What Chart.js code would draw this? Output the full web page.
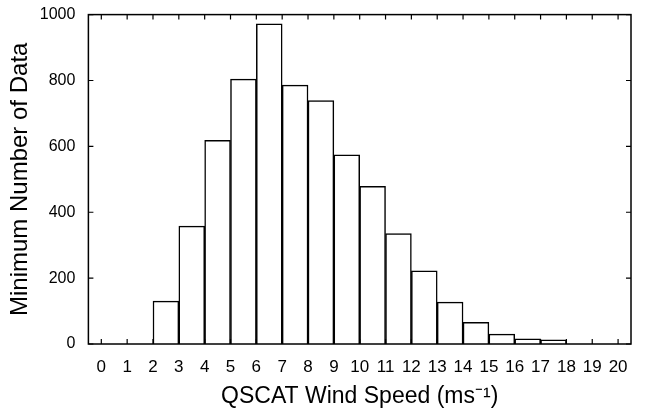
<!DOCTYPE html>
<html>
<head>
<meta charset="utf-8">
<script src="https://cdn.jsdelivr.net/npm/chart.js@4/dist/chart.umd.min.js"></script>
<style>
  html, body { margin: 0; padding: 0; background: #fff; }
  #wrap { width: 653px; height: 410px; }
</style>
</head>
<body>
<div id="wrap"><canvas id="hist"></canvas></div>
<script>
// bin left edges (ms^-1), 1 ms^-1 wide
const binStart = [0, 1, 2, 3, 4, 5, 6, 7, 8, 9, 10, 11, 12, 13, 14, 15, 16, 17, 18, 19]
// minimum number of data in each bin
const counts = [0, 0, 130, 358, 618, 804, 972, 786, 739, 574, 479, 335, 222, 127, 66, 30, 16, 13, 0, 0]
const xTicks = [0, 1, 2, 3, 4, 5, 6, 7, 8, 9, 10, 11, 12, 13, 14, 15, 16, 17, 18, 19, 20]
const yTicks = [0, 200, 400, 600, 800, 1000]

const font = 'Liberation Sans, Arial, Helvetica, sans-serif'

// box round the plot + inward ticks on all four sides, like the matlab style
const boxTicks = {
  id: 'boxTicks',
  afterDraw(chart) {
    const { ctx, chartArea: a, scales } = chart
    const len = 5
    ctx.save()
    ctx.strokeStyle = '#000'
    ctx.lineWidth = 1.5
    ctx.strokeRect(a.left, a.top, a.right - a.left, a.bottom - a.top)
    ctx.lineWidth = 1.2
    ctx.beginPath()
    xTicks.forEach(t => {
      const px = scales.x.getPixelForValue(t)
      ctx.moveTo(px, a.bottom); ctx.lineTo(px, a.bottom - len)
      ctx.moveTo(px, a.top); ctx.lineTo(px, a.top + len)
    })
    yTicks.forEach(t => {
      const py = scales.y.getPixelForValue(t)
      ctx.moveTo(a.left, py); ctx.lineTo(a.left + len, py)
      ctx.moveTo(a.right, py); ctx.lineTo(a.right - len, py)
    })
    ctx.stroke()
    ctx.restore()
  }
}

new Chart(document.getElementById('hist'), {
  type: 'bar',
  data: {
    datasets: [{
      data: binStart.map((b, i) => ({ x: b + 0.5, y: counts[i] })),
      backgroundColor: '#fff',
      borderColor: '#000',
      borderWidth: 1.5,
      barPercentage: 1,
      categoryPercentage: 1
    }]
  },
  options: {
    responsive: true,
    maintainAspectRatio: false,
    animation: false,
    layout: { padding: { left: 6, right: 22, top: 4, bottom: 0 } },
    plugins: { legend: { display: false }, tooltip: { enabled: false } },
    scales: {
      x: {
        type: 'linear',
        min: 0,
        max: 20,
        afterBuildTicks: s => { s.ticks = xTicks.map(v => ({ value: v })) },
        ticks: { color: '#000', font: { family: font, size: 17 }, padding: 5, maxRotation: 0, autoSkip: false,
          callback: v => String(v) },
        grid: { display: false },
        border: { display: false },
        title: {
          display: true,
          text: 'QSCAT Wind Speed (ms⁻¹)',
          color: '#000',
          font: { family: font, size: 23 },
          padding: { top: 0, bottom: 0 }
        }
      },
      y: {
        min: 0,
        max: 1000,
        afterBuildTicks: s => { s.ticks = yTicks.map(v => ({ value: v })) },
        ticks: { color: '#000', font: { family: font, size: 16 }, padding: 5, callback: v => String(v) },
        grid: { display: false },
        border: { display: false },
        title: {
          display: true,
          text: 'Minimum Number of Data',
          color: '#000',
          font: { family: font, size: 24 },
          padding: { top: 0, bottom: 0 }
        }
      }
    }
  },
  plugins: [boxTicks]
})
</script>
</body>
</html>
